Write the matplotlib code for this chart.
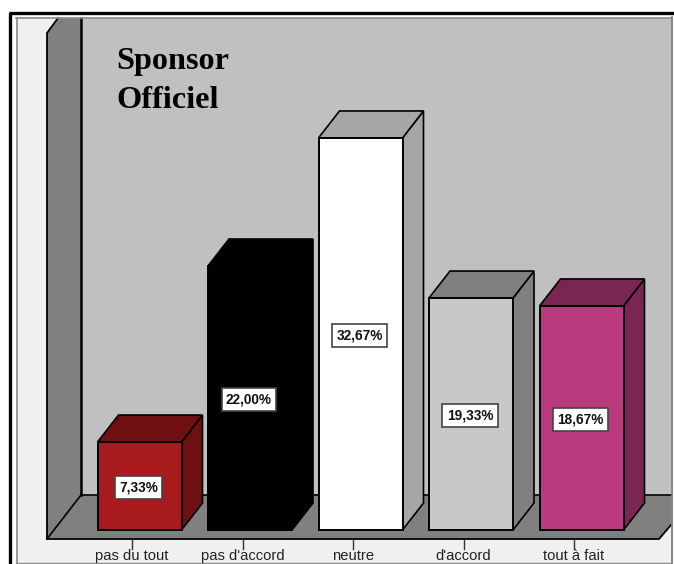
import matplotlib
matplotlib.use('Agg')
from matplotlib import pyplot as plt
from matplotlib.patches import Polygon, Rectangle

categories = ['pas du tout', "pas d'accord", 'neutre', "d'accord", 'tout à fait']
values = [7.33, 22.00, 32.67, 19.33, 18.67]
labels = ['7,33%', '22,00%', '32,67%', '19,33%', '18,67%']
front_colors = ['#a81a1c', '#000000', '#ffffff', '#c8c8c8', '#b93a7d']
side_colors = ['#6e1012', '#000000', '#a6a6a6', '#808080', '#7a2652']
top_colors = ['#6e1012', '#000000', '#a6a6a6', '#808080', '#7a2652']

W, H = 674, 564
fig = plt.figure(figsize=(W / 100, H / 100), dpi=100)
fig.patch.set_facecolor('white')

# background drawn in pixel coords, y going down like the picture
bg = fig.add_axes([0, 0, 1, 1])
bg.set_xlim(0, W)
bg.set_ylim(H, 0)
bg.axis('off')


def poly(pts, fc, ec='black', lw=1.2):
    bg.add_patch(Polygon(pts, closed=True, facecolor=fc, edgecolor=ec, linewidth=lw))


bg.add_patch(Rectangle((17, 18), 654, 550, facecolor='#f0f0f0', edgecolor='none'))
bg.add_patch(Rectangle((81, 18), 590, 477, facecolor='#c0c0c0', edgecolor='none'))
poly([(47, 33), (58, 18), (81, 18), (81, 495), (47, 539)], '#808080', ec='none')
poly([(47, 539), (81, 495), (671, 495), (671, 525), (659, 539)], '#808080', ec='none')
bg.plot([58, 47, 47, 659, 671], [18, 33, 539, 539, 525], color='black', lw=1.3)
bg.plot([47, 81], [539, 495], color='black', lw=1.2)
bg.plot([81, 671], [495, 495], color='black', lw=1.2)
bg.plot([81, 81], [18, 495], color='black', lw=1.8)

# outer frame
bg.plot([9.5, 9.5], [H, 12.5], color='black', lw=2.4, solid_capstyle='butt')
bg.plot([9, W], [12.5, 12.5], color='black', lw=2.4, solid_capstyle='butt')
bg.plot([16.5, 16.5], [H, 18], color='#8a8a8a', lw=1.2)
bg.plot([16, 671], [17.5, 17.5], color='#8a8a8a', lw=1.2)
bg.plot([671.5, 671.5], [17, H], color='#707070', lw=1.2)
bg.plot([16, 671], [563, 563], color='#8a8a8a', lw=1.0)

# chart axes on top: x is category index, y is percent
ax = fig.add_axes([0, 0, 1, 1])
ax.patch.set_alpha(0)
ax.axis('off')
x_step = 110.5
y_step = 12.0
ax.set_xlim(-139.5 / x_step, (W - 139.5) / x_step)
ax.set_ylim(-(H - 530) / y_step, 530 / y_step)

bar_w = 84 / x_step
dx = 21 / x_step
dy = 27 / y_step

for i, v in enumerate(values):
    l, r = i - bar_w / 2, i + bar_w / 2
    ax.fill([r, r + dx, r + dx, r], [0, dy, v + dy, v], facecolor=side_colors[i],
            edgecolor='black', linewidth=1.2, zorder=2 + i)
    ax.fill([l, l + dx, r + dx, r], [v, v + dy, v + dy, v], facecolor=top_colors[i],
            edgecolor='black', linewidth=1.2, zorder=2 + i)
    ax.bar(i, v, width=bar_w, color=front_colors[i], edgecolor='black', linewidth=1.4, zorder=2 + i)
    ax.text(i - 0.01, v / 2 - 1.5 / y_step, labels[i], ha='center', va='center', fontsize=9.8,
            fontweight='bold', family='Liberation Sans', color='#111111', zorder=10,
            bbox=dict(boxstyle='square,pad=0.32', facecolor='white', edgecolor='#444444', linewidth=1.2))
    # tick + category name, a bit left of the bar centre as in the picture
    tx = i - 7.5 / x_step
    ax.plot([tx, tx], [-10 / y_step, -19 / y_step], color='#333333', lw=1.0, zorder=2)
    ax.text(tx, -33.4 / y_step, categories[i], ha='center', va='bottom', fontsize=10.6,
            family='Liberation Sans', color='#222222')

bg.text(116, 69, 'Sponsor', fontsize=23.2, fontweight='bold', family='Liberation Serif',
        color='black', ha='left', va='baseline')
bg.text(116, 108, 'Officiel', fontsize=23.2, fontweight='bold', family='Liberation Serif',
        color='black', ha='left', va='baseline')

fig.savefig('out.png', dpi=100)
